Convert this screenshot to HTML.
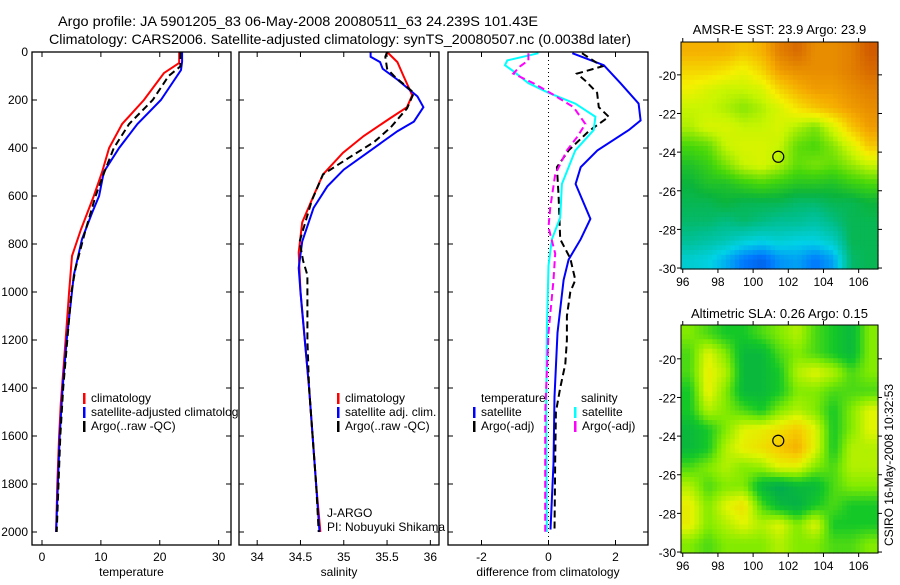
<!DOCTYPE html>
<html><head><meta charset="utf-8"><style>
body{margin:0;background:#fff;}
svg text{font-family:"Liberation Sans",sans-serif;font-size:12px;fill:#000;}
</style></head><body>
<svg id="c" width="900" height="580" xmlns="http://www.w3.org/2000/svg">
<rect width="900" height="580" fill="#fff"/>
<text x="58" y="26" textLength="480" lengthAdjust="spacingAndGlyphs" style="font-size:14px">Argo profile: JA 5901205_83 06-May-2008 20080511_63 24.239S 101.43E</text>
<text x="49" y="44" textLength="582" lengthAdjust="spacingAndGlyphs" style="font-size:14px">Climatology: CARS2006. Satellite-adjusted climatology: synTS_20080507.nc (0.0038d later)</text>
</svg>
<script>
// ---- profile data (depth in m) ----
const tDepth=[0,46,88,200,300,400,500,600,740,850,1000,1200,1463,1600,1800,2000];
const tClim=[23.3,23.3,20.7,17.3,13.6,11.4,10.2,8.8,6.6,5.1,4.6,4.0,3.2,2.9,2.6,2.4];
const tDepthB=[0,40,75,200,300,400,500,600,670,780,930,1040,1200,1400,1600,1800,2000];
const tSat=[23.8,23.8,23.6,20.2,16.2,13.1,10.5,9.7,8.5,6.8,5.4,4.9,4.2,3.5,3.0,2.7,2.4];
const tDepthK=[0,60,100,200,300,400,500,600,750,900,1000,1200,1400,1600,1800,2000];
const tArgo=[23.5,23.5,21.5,18.8,14.8,12.2,10.6,9.1,7.3,5.7,5.0,4.3,3.6,3.1,2.8,2.5];

const sDepthR=[0,42,100,180,230,275,350,420,510,600,710,835,1000,1200,1400,1600,1800,2000];
const sClim=[35.50,35.62,35.69,35.79,35.73,35.54,35.23,34.99,34.76,34.65,34.52,34.48,34.50,34.55,34.60,34.64,34.68,34.73];
const sDepthB=[0,20,42,70,115,185,230,290,330,410,490,560,650,790,900,1000,1200,1400,1600,1800,2000];
const sSat=[35.31,35.31,35.42,35.45,35.62,35.85,35.92,35.81,35.62,35.31,35.00,34.81,34.65,34.52,34.48,34.50,34.55,34.60,34.64,34.68,34.72];
const sDepthK=[0,20,70,100,170,235,315,375,445,510,620,790,870,930,1040,1200,1400,1600,1800,2000];
const sArgo=[35.50,35.48,35.50,35.58,35.81,35.73,35.54,35.35,35.04,34.76,34.63,34.49,34.53,34.58,34.58,34.58,34.60,34.64,34.68,34.71];

const dDepthTB=[5,55,130,215,285,325,410,480,550,600,695,780,865,950,1170,1437,1715,1990];
const dTSat=[0.71,1.65,2.15,2.69,2.75,2.4,1.46,0.96,0.81,0.96,1.25,0.96,0.6,0.45,0.27,0.18,0.15,0.06];
const dDepthTK=[5,60,90,120,170,230,270,330,410,480,600,780,860,950,1000,1100,1200,1300,1400,1500,1700,2000];
const dTArgo=[1.0,1.6,0.85,1.1,1.45,1.5,1.8,1.2,0.6,0.25,0.3,0.35,0.65,0.8,0.65,0.55,0.55,0.5,0.35,0.22,0.2,0.18];
const dDepthSC=[5,35,55,80,130,170,215,270,325,410,480,550,690,780,890,1170,1500,2000];
const dSSat=[-0.3,-1.23,-1.3,-1.05,-0.6,0.0,0.8,1.4,1.35,0.8,0.6,0.4,0.35,0.1,0.0,-0.05,-0.07,-0.05];
const dDepthSM=[5,35,60,90,130,170,230,300,355,410,510,650,730,840,950,1170,1500,2000];
const dSArgo=[-0.6,-0.6,-0.85,-1.05,-0.45,0.05,0.75,1.1,0.85,0.55,0.2,0.05,0.0,0.2,0.15,0.0,-0.1,-0.1];

const depthTicks=[0,200,400,600,800,1000,1200,1400,1600,1800,2000];
const tTicks=[0,10,20,30];
const sTicks=[34,34.5,35,35.5,36];
const sTickLabels=["34","34.5","35","35.5","36"];
const dTicks=[-2,0,2];

// ---- map data ----
const lonTicks=[96,98,100,102,104,106];
const latTicks=[-20,-22,-24,-26,-28,-30];
const sstGrid=[
[.85,.85,.85,.82,.85,.92,.95,.9,.9,.92,.97],
[.8,.8,.78,.75,.8,.88,.9,.9,.9,.92,.95],
[.75,.72,.7,.7,.72,.8,.85,.88,.88,.9,.92],
[.7,.7,.68,.65,.68,.72,.78,.82,.85,.88,.9],
[.68,.72,.72,.7,.7,.72,.68,.64,.72,.82,.88],
[.6,.62,.7,.72,.72,.7,.62,.6,.65,.72,.82],
[.55,.58,.64,.7,.72,.68,.62,.64,.62,.66,.7],
[.52,.55,.55,.58,.6,.58,.56,.56,.55,.58,.6],
[.5,.5,.52,.5,.5,.5,.48,.48,.5,.5,.52],
[.48,.48,.46,.48,.46,.44,.44,.42,.46,.5,.5],
[.44,.42,.4,.36,.34,.36,.34,.34,.38,.5,.5],
[.36,.34,.28,.2,.16,.24,.26,.2,.26,.48,.5]];
const slaGrid=[
[.6,.55,.5,.5,.55,.6,.65,.55,.5,.45,.6],
[.55,.7,.6,.45,.45,.55,.6,.55,.5,.45,.6],
[.55,.72,.65,.45,.45,.5,.65,.7,.65,.55,.6],
[.5,.72,.6,.45,.45,.5,.6,.6,.55,.55,.55],
[.5,.65,.6,.55,.5,.6,.65,.6,.5,.6,.7],
[.45,.5,.6,.7,.72,.75,.8,.7,.5,.6,.7],
[.45,.5,.65,.72,.75,.8,.85,.7,.5,.65,.65],
[.55,.6,.65,.6,.62,.7,.7,.6,.55,.65,.65],
[.65,.55,.6,.6,.45,.4,.45,.45,.55,.6,.6],
[.72,.6,.7,.75,.55,.45,.42,.5,.55,.5,.5],
[.72,.6,.65,.7,.65,.7,.6,.7,.5,.5,.5],
[.6,.55,.6,.6,.6,.65,.6,.6,.55,.55,.6]];
const argoLon=101.43, argoLat=-24.24;

const NS="http://www.w3.org/2000/svg";
const svg=document.getElementById('c');
function el(tag,attrs,parent){const e=document.createElementNS(NS,tag);for(const k in attrs)e.setAttribute(k,attrs[k]);(parent||svg).appendChild(e);return e;}

const top0=52,bot0=545;
const yD=d=>52+d*0.24;
function panel(name,x0,x1,xmin,xmax,ticks,labels,xlabel){
  const g=el('g',{});
  
  
  el('rect',{x:x0,y:top0,width:x1-x0,height:bot0-top0,fill:'#fff'},g);
  const xs=v=>x0+(v-xmin)/(xmax-xmin)*(x1-x0);
  ticks.forEach((t,i)=>{const x=xs(t);
    el('line',{x1:x,x2:x,y1:bot0,y2:bot0-5,stroke:'#000'},g);
    el('line',{x1:x,x2:x,y1:top0,y2:top0+5,stroke:'#000'},g);
    const tx=el('text',{x:x,y:bot0+16,'text-anchor':'middle'},g);tx.textContent=labels[i];
    
    
  });
  depthTicks.forEach(d=>{const y=yD(d);
    el('line',{x1:x0,x2:x0+5,y1:y,y2:y,stroke:'#000'},g);
    el('line',{x1:x1,x2:x1-5,y1:y,y2:y,stroke:'#000'},g);});
  const xl=el('text',{x:(x0+x1)/2,y:bot0+31,'text-anchor':'middle'},g);xl.textContent=xlabel;
  
  
  return {g,xs};
}
function line(p,depths,vals,color,dash,name){
  const pts=depths.map((d,i)=>p.xs(vals[i]).toFixed(1)+','+yD(d).toFixed(1)).join(' ');
  const l=el('polyline',{points:pts,fill:'none',stroke:color,'stroke-width':2,'stroke-dasharray':dash||'none'},p.g);
  
  
}
function frame(p,x0,x1){el('rect',{x:x0,y:top0,width:x1-x0,height:bot0-top0,fill:'none',stroke:'#000','stroke-width':1.3},p.g);}
function legendRow(g,x,y,color,label){
  const b=el('rect',{x:x,y:y-9,width:2.5,height:11,fill:color},g);
  
  
  const t=el('text',{x:x+8,y:y},g);t.textContent=label;
  
  
}

// panel 1
const p1=panel('temperature-panel',32,231,-1.7,32.1,tTicks,tTicks.map(String),'temperature');
depthTicks.forEach(d=>{const t=el('text',{x:28,y:yD(d)+4,'text-anchor':'end'});t.textContent=d;
  
  });
line(p1,tDepth,tClim,'#f00',null,'temp-climatology-line');
line(p1,tDepthB,tSat,'#00f',null,'temp-satellite-line');
line(p1,tDepthK,tArgo,'#000','7,4','temp-argo-line');
legendRow(p1.g,83,402,'#f00','climatology');
legendRow(p1.g,83,416,'#00f','satellite-adjusted climatology');
legendRow(p1.g,83,430,'#000','Argo(..raw -QC)');
frame(p1,32,231);

// panel 2
const p2=panel('salinity-panel',239,439,33.79,36.1,sTicks,sTickLabels,'salinity');
line(p2,sDepthR,sClim,'#f00',null,'sal-climatology-line');
line(p2,sDepthB,sSat,'#00f',null,'sal-satellite-line');
line(p2,sDepthK,sArgo,'#000','7,4','sal-argo-line');
legendRow(p2.g,337,402,'#f00','climatology');
legendRow(p2.g,337,416,'#00f','satellite adj. clim.');
legendRow(p2.g,337,430,'#000','Argo(..raw -QC)');
const j1=el('text',{x:327,y:517},p2.g);j1.textContent='J-ARGO';


const j2=el('text',{x:327,y:531},p2.g);j2.textContent='PI: Nobuyuki Shikama';


frame(p2,239,439);

// panel 3
const p3=panel('difference-panel',448,648,-3.0,2.97,dTicks,dTicks.map(String),'difference from climatology');
el('line',{x1:p3.xs(0),x2:p3.xs(0),y1:top0,y2:bot0,stroke:'#000','stroke-dasharray':'1,3'},p3.g);
line(p3,dDepthTB,dTSat,'#00f',null,'diff-temp-satellite-line');
line(p3,dDepthTK,dTArgo,'#000','7,4','diff-temp-argo-line');
line(p3,dDepthSC,dSSat,'#0ff',null,'diff-sal-satellite-line');
line(p3,dDepthSM,dSArgo,'#f0f','7,4','diff-sal-argo-line');
const lt=el('text',{x:481,y:402},p3.g);lt.textContent='temperature';
const ls=el('text',{x:581,y:402},p3.g);ls.textContent='salinity';
legendRow(p3.g,473,416,'#00f','satellite');
legendRow(p3.g,473,430,'#000','Argo(-adj)');
legendRow(p3.g,574,416,'#0ff','satellite');
legendRow(p3.g,574,430,'#f0f','Argo(-adj)');
frame(p3,448,648);

// ---- maps ----
const sstStops=[[0,[0,20,160]],[0.2,[0,120,255]],[0.33,[0,210,230]],[0.45,[0,190,140]],[0.52,[10,180,60]],[0.6,[70,215,10]],[0.7,[200,245,0]],[0.76,[245,240,0]],[0.86,[245,170,0]],[1,[200,70,0]]];
const slaStops=[[0,[0,150,90]],[0.4,[0,170,80]],[0.5,[20,200,40]],[0.6,[130,235,0]],[0.7,[225,245,0]],[0.78,[245,210,0]],[0.88,[245,160,0]],[1,[220,100,0]]];
function cmap(stops,v){for(let i=1;i<stops.length;i++){if(v<=stops[i][0]){const a=stops[i-1],b=stops[i],f=(v-a[0])/(b[0]-a[0]);
  return 'rgb('+a[1].map((c,k)=>Math.round(c+(b[1][k]-c)*f)).join(',')+')';}}const l=stops[stops.length-1][1];return 'rgb('+l.join(',')+')';}
function map(name,grid,stops,x0,x1,y0,y1,latTop,title,ty){
  const g=el('g',{});
  
  
  const lonMin=95.9,lonMax=107.1,latBot=-30.05;
  const xs=lo=>x0+(lo-lonMin)/(lonMax-lonMin)*(x1-x0);
  const ys=la=>y0+(latTop-la)/(latTop-latBot)*(y1-y0);
  const rows=grid.length,cols=grid[0].length;
  const sub=4;
  const cw=(x1-x0)/(cols*sub),ch=(y1-y0)/(rows*sub);
  for(let r=0;r<rows*sub;r++)for(let c=0;c<cols*sub;c++){
    const fr=Math.min(rows-1,Math.max(0,(r+0.5)/sub-0.5)),fc=Math.min(cols-1,Math.max(0,(c+0.5)/sub-0.5));
    const r0=Math.floor(fr),c0=Math.floor(fc),r1=Math.min(rows-1,r0+1),c1=Math.min(cols-1,c0+1),a=fr-r0,b=fc-c0;
    const v=grid[r0][c0]*(1-a)*(1-b)+grid[r0][c1]*(1-a)*b+grid[r1][c0]*a*(1-b)+grid[r1][c1]*a*b;
    el('rect',{x:(x0+c*cw).toFixed(2),y:(y0+r*ch).toFixed(2),width:(cw+0.6).toFixed(2),height:(ch+0.6).toFixed(2),fill:cmap(stops,v)},g);
  }
  const ci=el('circle',{cx:xs(argoLon),cy:ys(argoLat),r:5.5,fill:'none',stroke:'#000','stroke-width':1.2},g);
  
  
  el('rect',{x:x0,y:y0,width:x1-x0,height:y1-y0,fill:'none',stroke:'#000'},g);
  lonTicks.forEach(lo=>{const x=xs(lo);el('line',{x1:x,x2:x,y1:y1,y2:y1+4,stroke:'#000'},g);el('line',{x1:x,x2:x,y1:y0,y2:y0-4,stroke:'#000'},g);
    const t=el('text',{x:x,y:y1+17,'text-anchor':'middle'},g);t.textContent=lo;
    
    });
  latTicks.forEach(la=>{const y=ys(la);el('line',{x1:x0-4,x2:x0,y1:y,y2:y,stroke:'#000'},g);el('line',{x1:x1,x2:x1+4,y1:y,y2:y,stroke:'#000'},g);
    const t=el('text',{x:x0-5,y:y+5,'text-anchor':'end'},g);t.textContent=la;
    
    });
  const tt=el('text',{x:(x0+x1)/2,y:ty,'text-anchor':'middle',style:'font-size:13px'},g);tt.textContent=title;
  
  
}
map('sst-map',sstGrid,sstStops,681,878,42,269,-18.3,'AMSR-E SST: 23.9 Argo: 23.9',34);
map('sla-map',slaGrid,slaStops,681,878,325,553,-18.25,'Altimetric SLA: 0.26 Argo: 0.15',318);
const cs=el('text',{x:0,y:0,'text-anchor':'middle',transform:'translate(893,465) rotate(-90)'});cs.textContent='CSIRO 16-May-2008 10:32:53';


</script>
</body></html>
